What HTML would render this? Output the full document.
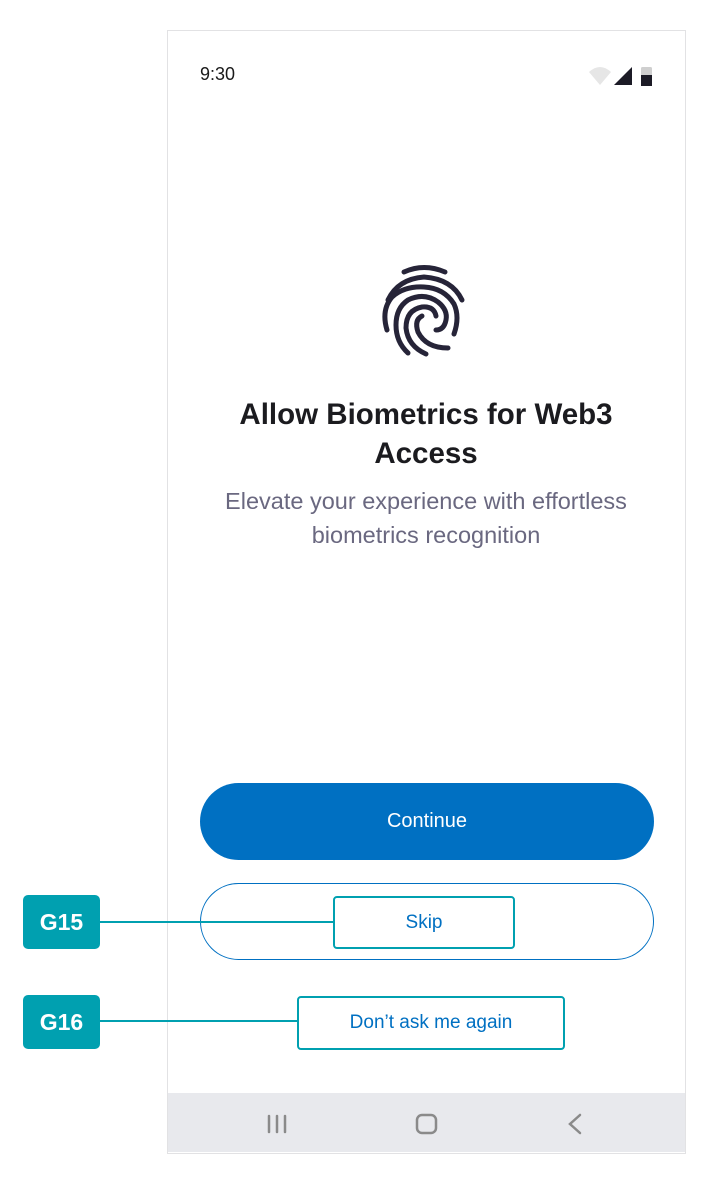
<!DOCTYPE html>
<html><head><style>
body{margin:0;width:706px;height:1180px;background:#fff;position:relative;font-family:"Liberation Sans",sans-serif;overflow:hidden}
.a{position:absolute}
.c{text-align:center}
</style></head><body>
<div class="a" style="left:167px;top:30px;width:517px;height:1122px;border:1px solid #e2e2e4;background:#fff"></div>
<div class="a" style="left:200px;top:64px;font-size:18px;color:#1a1a1a">9:30</div>
<svg class="a" style="left:588px;top:64px" width="70" height="24">
<path d="M1 8 Q12 -2 23 8 L12 21 Z" fill="#e6e6e6"/>
<path d="M26 21 L44 3 L44 21 Z" fill="#1c1b26"/>
<rect x="53" y="3" width="11" height="19" rx="1.5" fill="#cfcfcf"/>
<rect x="53" y="11" width="11" height="11" fill="#1c1b26"/>
</svg>
<svg class="a" style="left:378px;top:260px" width="92" height="100" viewBox="0 0 92 100" fill="none" stroke="#262438" stroke-width="5" stroke-linecap="round">
<path d="M26 12 Q46 3 67 12"/>
<path d="M10 40 Q20 19 46 17 Q74 19 84 40"/>
<path d="M9 70 Q3 50 14 37 Q26 26 46 27 Q66 28 76 44 Q82 57 76 74"/>
<path d="M30 93 Q18 82 18 65 Q18 48 30 40 Q46 32 60 42 Q70 50 68 60 Q66 70 58 70"/>
<path d="M48 94 Q30 86 28 68 Q28 50 44 47 Q56 46 58 56"/>
<path d="M70 88 Q48 88 40 72 Q36 60 44 56"/>
</svg>
<div class="a c" style="left:117px;width:618px;top:395px;font-size:29.5px;font-weight:bold;line-height:39px;color:#1b1b1f">Allow Biometrics for Web3<br>Access</div>
<div class="a c" style="left:117px;width:618px;top:484px;font-size:23.5px;line-height:34px;color:#6a6880">Elevate your experience with effortless<br>biometrics recognition</div>
<div class="a c" style="left:200px;top:783px;width:454px;height:77px;border-radius:39px;background:#0070c2;color:#fff;font-size:20px;line-height:77px">Continue</div>
<div class="a" style="left:200px;top:883px;width:452px;height:75px;border-radius:39px;border:1.5px solid #0070c2"></div>
<div class="a" style="left:100px;top:921px;width:234px;height:2px;background:#00a0b0"></div>
<div class="a c" style="left:333px;top:896px;width:178px;height:49px;border:2px solid #00a0b0;border-radius:4px;color:#0070c2;font-size:19px;line-height:49px">Skip</div>
<div class="a" style="left:100px;top:1020px;width:198px;height:2px;background:#00a0b0"></div>
<div class="a c" style="left:297px;top:996px;width:264px;height:50px;border:2px solid #00a0b0;border-radius:4px;color:#0070c2;font-size:19px;line-height:50px">Don’t ask me again</div>
<div class="a c" style="left:23px;top:895px;width:77px;height:54px;background:#00a0b0;border-radius:5px;color:#fff;font-weight:bold;font-size:23px;line-height:54px">G15</div>
<div class="a c" style="left:23px;top:995px;width:77px;height:54px;background:#00a0b0;border-radius:5px;color:#fff;font-weight:bold;font-size:23px;line-height:54px">G16</div>
<div class="a" style="left:168px;top:1093px;width:517px;height:59px;background:#e8e9ed"></div>
<svg class="a" style="left:260px;top:1110px" width="330" height="30" fill="none" stroke="#8a8a8a" stroke-width="2.5" stroke-linecap="round">
<path d="M9 6V22M17 6V22M25 6V22"/>
<rect x="157" y="5" width="19" height="18" rx="5"/>
<path d="M320 5L310 14L320 23"/>
</svg>
</body></html>
